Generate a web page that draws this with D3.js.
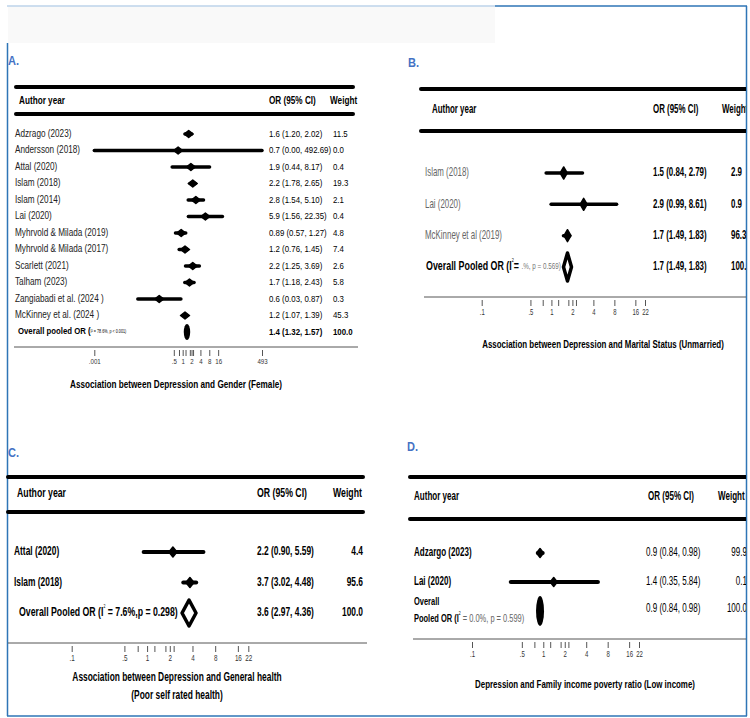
<!DOCTYPE html>
<html>
<head>
<meta charset="utf-8">
<script src="https://cdn.jsdelivr.net/npm/d3@7"></script>
<style>
  body { margin: 0; background: #fff; }
  svg { display: block; }
</style>
</head>
<body>
<div id="chart"></div>
<script>
// ---- data ----
const studiesA = ["Adzrago (2023)", "Andersson (2018)", "Attal (2020)", "Islam (2018)", "Islam (2014)", "Lai (2020)",
  "Myhrvold & Milada (2019)", "Myhrvold & Milada (2017)", "Scarlett (2021)", "Talham (2023)",
  "Zangiabadi et al. (2024 )", "McKinney et al. (2024 )"];
const orA = [1.6, 0.7, 1.9, 2.2, 2.8, 5.9, 0.89, 1.2, 2.2, 1.7, 0.16, 1.2];
const lowA = [1.20, 0.001, 0.44, 1.78, 1.54, 1.56, 0.57, 0.76, 1.25, 1.18, 0.03, 1.07];
const highA = [2.02, 492.69, 8.17, 2.65, 5.10, 22.35, 1.27, 1.45, 3.69, 2.43, 0.87, 1.39];
const ciTextA = ["1.6 (1.20, 2.02)", "0.7 (0.00, 492.69)", "1.9 (0.44, 8.17)", "2.2 (1.78, 2.65)", "2.8 (1.54, 5.10)",
  "5.9 (1.56, 22.35)", "0.89 (0.57, 1.27)", "1.2 (0.76, 1.45)", "2.2 (1.25, 3.69)", "1.7 (1.18, 2.43)",
  "0.6 (0.03, 0.87)", "1.2 (1.07, 1.39)"];
const weightA = ["11.5", "0.0", "0.4", "19.3", "2.1", "0.4", "4.8", "7.4", "2.6", "5.8", "0.3", "45.3"];
const pooledA = [1.4, 1.32, 1.57];
const pooledTextA = ["1.4 (1.32, 1.57)", "100.0"];
const ticksA = [0.001, 0.5, 1, 2, 4, 8, 16, 493];
const tickLabelsA = [".001", ".5", "1", "2", "4", "8", "16", "493"];

const studiesB = ["Islam (2018)", "Lai (2020)", "McKinney et al (2019)"];
const orB = [1.5, 2.9, 1.7];
const lowB = [0.84, 0.99, 1.49];
const highB = [2.79, 8.61, 1.83];
const ciTextB = ["1.5 (0.84, 2.79)", "2.9 (0.99, 8.61)", "1.7 (1.49, 1.83)"];
const weightB = ["2.9", "0.9", "96.3"];
const pooledB = [1.7, 1.49, 1.83];
const pooledTextB = ["1.7 (1.49, 1.83)", "100.0"];

const studiesC = ["Attal (2020)", "Islam (2018)"];
const orC = [2.2, 3.7];
const lowC = [0.90, 3.02];
const highC = [5.59, 4.48];
const ciTextC = ["2.2 (0.90, 5.59)", "3.7 (3.02, 4.48)"];
const weightC = ["4.4", "95.6"];
const pooledC = [3.6, 2.97, 4.36];
const pooledTextC = ["3.6 (2.97, 4.36)", "100.0"];

const studiesD = ["Adzargo (2023)", "Lai (2020)"];
const orD = [0.9, 1.4];
const lowD = [0.84, 0.35];
const highD = [0.98, 5.84];
const ciTextD = ["0.9 (0.84, 0.98)", "1.4 (0.35, 5.84)"];
const weightD = ["99.9", "0.1"];
const pooledD = [0.9, 0.84, 0.98];
const pooledTextD = ["0.9 (0.84, 0.98)", "100.0"];

const ticksBCD = [0.1, 0.5, 1, 2, 4, 8, 16, 22];
const tickLabelsBCD = [".1", ".5", "1", "2", "4", "8", "16", "22"];
const minorTicks = [0.75, 1.25, 1.75, 2.25];

// ---- page ----
const width = 750, height = 718;
const FONT = "'Liberation Sans', Arial, sans-serif";
const blue = "#4472c4";

const svg = d3.select('#chart')
  .append('svg')
    .attr('width', width)
    .attr('height', height)
    .style('font-family', FONT);

svg.append('defs').append('clipPath')
    .attr('id', 'pageclip')
  .append('rect')
    .attr('x', 0).attr('y', 0)
    .attr('width', 746).attr('height', height);

// frame
svg.append('rect')
    .attr('x', 8).attr('y', 6).attr('width', 487).attr('height', 37)
    .attr('fill', '#f9f9f9');
svg.append('line')
    .attr('x1', 7).attr('y1', 6).attr('x2', 495).attr('y2', 6)
    .attr('stroke', '#bcd3ea').attr('stroke-width', 1.5);
svg.append('line')
    .attr('x1', 495).attr('y1', 6).attr('x2', 747).attr('y2', 6)
    .attr('stroke', '#2e75b6').attr('stroke-width', 1.5);
svg.append('line')
    .attr('x1', 7.5).attr('y1', 43).attr('x2', 7.5).attr('y2', 716)
    .attr('stroke', '#2e75b6').attr('stroke-width', 1.5);
svg.append('line')
    .attr('x1', 746.5).attr('y1', 6).attr('x2', 746.5).attr('y2', 716)
    .attr('stroke', '#2e75b6').attr('stroke-width', 1.5);
svg.append('line')
    .attr('x1', 7).attr('y1', 716).attr('x2', 747).attr('y2', 716)
    .attr('stroke', '#2e75b6').attr('stroke-width', 1.5);

const page = svg.append('g').attr('clip-path', 'url(#pageclip)');

function diamond(cx, cy, hw, hh) {
  return `M${cx - hw},${cy}L${cx},${cy - hh}L${cx + hw},${cy}L${cx},${cy + hh}Z`;
}

// narrow text: Arial metrics squeezed horizontally
function T(parent, x, y, str, o) {
  const t = parent.append('text')
      .attr('transform', `translate(${x},${y}) scale(${o.sx},1)`)
      .attr('dominant-baseline', 'middle')
      .attr('text-anchor', o.anchor || 'start')
      .style('font-size', o.size + 'px')
      .style('font-weight', o.weight || 'normal')
      .attr('fill', o.fill || '#000');
  if (str !== null) t.text(str);
  return t;
}

function drawForest(p) {
  const g = page.append('g');
  const x = d3.scaleLog().domain(p.domain).range(p.xRange);
  const y = d3.scalePoint().domain(p.studies.concat(['__overall'])).range(p.yRange);
  const sx = p.sx;

  T(g, p.letter[0], p.letter[1], p.letterText, {sx: 0.85, size: 13, weight: 'bold', fill: blue});

  // header rules
  [p.rule1, p.rule2].forEach(r => {
    g.append('line')
        .attr('x1', p.ruleX[0]).attr('x2', p.ruleX[1])
        .attr('y1', r).attr('y2', r)
        .attr('stroke', '#000').attr('stroke-width', 4)
        .attr('stroke-linecap', 'round');
  });

  const hOpt = {sx: sx, size: p.headSize, weight: 'bold'};
  T(g, p.headX[0], p.headY, 'Author year', hOpt);
  T(g, p.headX[1], p.headY, 'OR (95% CI)', hOpt);
  T(g, p.headX[2], p.headY, 'Weight', hOpt);

  // rows
  const rows = p.studies.map((s, i) => ({s, or: p.or[i], lo: p.low[i], hi: p.high[i], txt: p.ciText[i], w: p.weight[i]}));
  const rg = g.selectAll('g.row')
    .data(rows)
    .join('g')
      .attr('class', 'row');

  rg.append('line')
      .attr('x1', d => x(d.lo)).attr('x2', d => x(d.hi))
      .attr('y1', d => y(d.s)).attr('y2', d => y(d.s))
      .attr('stroke', '#000').attr('stroke-width', p.ciWidth)
      .attr('stroke-linecap', 'round');

  rg.append('path')
      .attr('d', d => diamond(x(d.or), y(d.s), p.marker[0], p.marker[1]))
      .attr('fill', '#000').attr('stroke', '#000').attr('stroke-width', 1.5)
      .attr('stroke-linejoin', 'round');

  rows.forEach(d => {
    T(g, p.labelX, y(d.s), d.s, {sx: sx, size: p.labelSize, weight: p.labelWeight, fill: p.labelColor});
    T(g, p.ciX, y(d.s), d.txt, {sx: sx, size: p.ciSize, weight: p.ciWeight});
    T(g, p.weightX, y(d.s), d.w, {sx: sx, size: p.ciSize, weight: p.ciWeight, anchor: p.weightAnchor});
  });

  // pooled estimate
  const yo = y('__overall');
  const pc = x(p.pooled[0]);
  if (p.pooledShape === 'ellipse') {
    g.append('ellipse')
        .attr('cx', pc).attr('cy', yo)
        .attr('rx', p.pooledSize[0]).attr('ry', p.pooledSize[1])
        .attr('fill', '#000');
  } else {
    const hw = Math.max((x(p.pooled[2]) - x(p.pooled[1])) / 2, p.pooledSize[0]);
    g.append('path')
        .attr('d', diamond(pc, yo, hw, p.pooledSize[1]))
        .attr('fill', '#fff').attr('stroke', '#000').attr('stroke-width', 3.5)
        .attr('stroke-linejoin', 'round');
  }

  const ov = T(g, p.overallX, yo + (p.overallDy || 0), null,
      {sx: p.overallSx || sx, size: p.overallSize, weight: 'bold'});
  p.overallParts.forEach(part => {
    const t = ov.append('tspan').text(part.t);
    if (part.size) t.style('font-size', part.size + 'px');
    if (part.weight) t.style('font-weight', part.weight);
    if (part.fill) t.attr('fill', part.fill);
    if (part.dy) t.attr('dy', part.dy);
  });
  if (p.overallLine1) {
    T(g, p.overallX, yo - 9, p.overallLine1, {sx: p.overallSx || sx, size: p.overallSize, weight: 'bold'});
  }
  T(g, p.ciX, yo + (p.pooledTextDy || 0), p.pooledText[0], {sx: sx, size: p.ciSize, weight: p.pooledWeight});
  T(g, p.weightX, yo + (p.pooledTextDy || 0), p.pooledText[1],
      {sx: sx, size: p.ciSize, weight: p.pooledWeight, anchor: p.weightAnchor});

  // axis
  g.append('line')
      .attr('x1', p.axisX[0]).attr('x2', p.axisX[1])
      .attr('y1', p.axisY).attr('y2', p.axisY)
      .attr('stroke', '#555').attr('stroke-width', 1);
  const ax = g.append('g')
      .attr('transform', `translate(0,${p.axisY + 3})`)
      .call(d3.axisBottom(x)
        .tickValues(p.ticks.concat(minorTicks))
        .tickSize(6)
        .tickFormat(v => {
          const i = p.ticks.indexOf(v);
          return i >= 0 ? p.tickLabels[i] : '';
        }));
  ax.select('.domain').remove();
  ax.selectAll('.tick line').attr('stroke', '#555');
  ax.selectAll('.tick text')
      .attr('y', 9)
      .attr('transform', `scale(${sx},1)`)
      .style('font-family', FONT)
      .style('font-size', p.tickSize + 'px')
      .attr('fill', '#333');

  // title
  p.title.forEach((t, i) => {
    T(g, p.titleX, p.titleY + i * 18, t,
      {sx: p.titleSx, size: p.titleSize, weight: 'bold', anchor: 'middle'});
  });
}

drawForest({
  studies: studiesA, or: orA, low: lowA, high: highA, ciText: ciTextA, weight: weightA,
  pooled: pooledA, pooledText: pooledTextA, ticks: ticksA, tickLabels: tickLabelsA,
  domain: [0.001, 493], xRange: [94.3, 262], yRange: [134, 332], sx: 0.82,
  letter: [8, 62], letterText: 'A.',
  rule1: 87, rule2: 114, ruleX: [16, 353],
  headY: 101, headX: [19, 269, 330], headSize: 10,
  labelX: 15, labelSize: 10, labelWeight: 'normal', labelColor: '#222',
  ciX: 269, ciSize: 9.6, ciWeight: 'normal', weightX: 333, weightAnchor: 'start', pooledWeight: 'bold',
  ciWidth: 3.5, marker: [4.5, 3.5],
  pooledShape: 'ellipse', pooledSize: [3.2, 8],
  overallX: 18, overallSize: 9.5,
  overallParts: [{t: 'Overall pooled OR ('}, {t: 'I² = 78.6%, p < 0.001)', size: 4.5, weight: 'normal'}],
  axisX: [14, 358], axisY: 347, tickSize: 7.5,
  title: ['Association between Depression and Gender (Female)'], titleX: 176, titleY: 385, titleSize: 10, titleSx: 0.82
});

drawForest({
  studies: studiesB, or: orB, low: lowB, high: highB, ciText: ciTextB, weight: weightB,
  pooled: pooledB, pooledText: pooledTextB, ticks: ticksBCD, tickLabels: tickLabelsBCD,
  domain: [0.1, 22], xRange: [481.7, 645], yRange: [173, 267], sx: 0.66,
  letter: [408, 64], letterText: 'B.',
  rule1: 89, rule2: 131, ruleX: [421, 760],
  headY: 110, headX: [432, 653, 722], headSize: 12,
  labelX: 425, labelSize: 12, labelWeight: 'normal', labelColor: '#666',
  ciX: 653, ciSize: 12, ciWeight: 'bold', weightX: 731, weightAnchor: 'start', pooledWeight: 'bold',
  ciWidth: 3.5, marker: [3.5, 6],
  pooledShape: 'diamond', pooledSize: [4, 14],
  overallX: 426, overallSize: 12, overallSx: 0.74,
  overallParts: [{t: 'Overall Pooled OR (I'}, {t: '2', size: 5, weight: 'normal', dy: -6},
    {t: '= ', dy: 6}, {t: '.%, p = 0.569)', size: 8.5, weight: 'normal', fill: '#777'}],
  axisX: [424, 760], axisY: 297, tickSize: 9,
  title: ['Association between Depression and Marital Status (Unmarried)'], titleX: 603, titleY: 345, titleSize: 11.5, titleSx: 0.69
});

drawForest({
  studies: studiesC, or: orC, low: lowC, high: highC, ciText: ciTextC, weight: weightC,
  pooled: pooledC, pooledText: pooledTextC, ticks: ticksBCD, tickLabels: tickLabelsBCD,
  domain: [0.1, 22], xRange: [71.7, 248.3], yRange: [552, 613], sx: 0.7,
  letter: [8, 454], letterText: 'C.',
  rule1: 477, rule2: 512, ruleX: [8, 363],
  headY: 494, headX: [17, 257, 333], headSize: 12.5,
  labelX: 14, labelSize: 12, labelWeight: 'bold', labelColor: '#000',
  ciX: 257, ciSize: 12, ciWeight: 'bold', weightX: 363, weightAnchor: 'end', pooledWeight: 'bold',
  ciWidth: 4, marker: [4, 5],
  pooledShape: 'diamond', pooledSize: [7, 13],
  overallX: 19, overallSize: 12.5,
  overallParts: [{t: 'Overall Pooled OR (I'}, {t: '2', size: 5, weight: 'normal', dy: -6},
    {t: ' = 7.6%,p = 0.298)', dy: 6}],
  axisX: [8, 367], axisY: 643, tickSize: 9,
  title: ['Association between Depression and General health', '(Poor self rated health)'],
  titleX: 177, titleY: 678, titleSize: 12, titleSx: 0.7
});

drawForest({
  studies: studiesD, or: orD, low: lowD, high: highD, ciText: ciTextD, weight: weightD,
  pooled: pooledD, pooledText: pooledTextD, ticks: ticksBCD, tickLabels: tickLabelsBCD,
  domain: [0.1, 22], xRange: [472, 639], yRange: [553, 611], sx: 0.67,
  letter: [407, 448], letterText: 'D.',
  rule1: 477, rule2: 519, ruleX: [410, 760],
  headY: 497, headX: [414, 648, 718], headSize: 12,
  labelX: 414, labelSize: 12, labelWeight: 'bold', labelColor: '#000',
  ciX: 646, ciSize: 12, ciWeight: 'normal', weightX: 747, weightAnchor: 'end', pooledWeight: 'normal',
  ciWidth: 4, marker: [3.5, 4.5],
  pooledShape: 'ellipse', pooledSize: [4, 15],
  overallX: 414, overallSize: 11, overallSx: 0.68, overallDy: 9, overallLine1: 'Overall', pooledTextDy: -2,
  overallParts: [{t: 'Pooled OR (I'}, {t: '2', size: 5, weight: 'normal', dy: -6},
    {t: ' = 0.0%, p = 0.599)', dy: 6, weight: 'normal', fill: '#666'}],
  axisX: [413, 760], axisY: 639, tickSize: 9,
  title: ['Depression and Family income poverty ratio (Low income)'], titleX: 585, titleY: 685, titleSize: 11, titleSx: 0.72
});
</script>
</body>
</html>
